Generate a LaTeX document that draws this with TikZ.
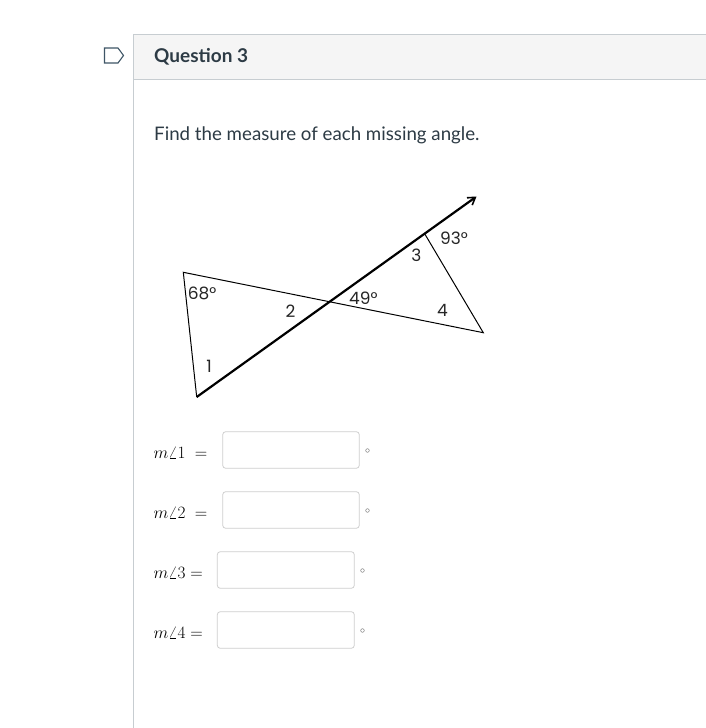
\documentclass[tikz,border=0pt]{standalone}
\usepackage{fontspec}
\setmainfont{Lato}
\newfontfamily\geo{Poppins}
\usetikzlibrary{arrows.meta}
\definecolor{ink}{HTML}{2D3B45}
\definecolor{rule}{HTML}{C7CDD1}
\definecolor{band}{HTML}{F5F5F5}
\definecolor{boxline}{HTML}{CFCFCF}
\definecolor{iconline}{HTML}{3E5566}
\tikzset{
  thinline/.style={line width=1pt, black},
  rayline/.style={line width=2.2pt, black, -{Straight Barb[length=7pt,width=9pt,line width=1.6pt]}},
  anglab/.style={font=\geo\fontsize{17}{20}\selectfont, inner sep=0pt, text=black!85},
  anslab/.style={font=\fontsize{18}{22}\selectfont, inner sep=0pt, anchor=base west, text=black},
  ansbox/.style={draw=boxline, line width=0.8pt, rounded corners=3pt, fill=white},
  degsym/.style={font=\fontsize{10}{12}\selectfont, inner sep=0pt, text=black!70},
}
\begin{document}
\begin{tikzpicture}[x=1pt,y=-1pt]
\useasboundingbox (0,0) rectangle (706,728);
\fill[white] (0,0) rectangle (706,728);
% header band
\fill[band] (133,34) rectangle (706,79);
\draw[rule, line width=1pt] (706,34) -- (133,34) -- (133,728);
\draw[rule, line width=1pt] (133,79) -- (706,79);
% tag icon
\draw[iconline, line width=1.1pt, line join=miter] (104.5,48) -- (118,48) -- (123.5,55.5) -- (118,63) -- (104.5,63) -- cycle;
\node[anchor=base west, inner sep=0pt, text=ink, font=\bfseries\fontsize{19}{23}\selectfont] (title) at (154,62) {Question 3};
\node[anchor=base west, inner sep=0pt, text=ink, font=\fontsize{18.7}{22}\selectfont] (prompt) at (154,140.5) {Find the measure of each missing angle.};
% figure
\coordinate (A) at (183.3,272.3);
\coordinate (B) at (196.7,397);
\coordinate (O) at (330,301.7);
\coordinate (C) at (483.3,332.7);
\coordinate (D) at (425,234.3);
\coordinate (T) at (476.5,196.5);
\draw[thinline, line join=miter] (B) -- (A) -- (C) -- (D);
\draw[rayline] (B) -- (T);
\node[anglab] (l68) at (202,293.3) {68°};
\node[anglab] (l1) at (209,366.7) {1};
\node[anglab] (l2) at (290.5,311.7) {2};
\node[anglab] (l49) at (363.3,298) {49°};
\node[anglab] (l3) at (416.5,255) {3};
\node[anglab] (l93) at (454,238.3) {93°};
\node[anglab] (l4) at (442.5,310) {4};
% answers
\node[anslab] (m1) at (153.3,458.3) {$m\angle1\ =$};
\node[anslab] (m2) at (153.3,518.3) {$m\angle2\ =$};
\node[anslab] (m3) at (153.3,578.3) {$m\angle3=$};
\node[anslab] (m4) at (153.3,638.3) {$m\angle4=$};
\draw[ansbox] (222.7,431.7) rectangle (359.3,468.3) node[midway] (b1) {};
\draw[ansbox] (222.7,491.7) rectangle (359.3,528.3) node[midway] (b2) {};
\draw[ansbox] (217.3,551.7) rectangle (354.3,588.3) node[midway] (b3) {};
\draw[ansbox] (217.3,611.7) rectangle (354.3,648.3) node[midway] (b4) {};
\node[degsym] (d1) at (367.7,451) {$\circ$};
\node[degsym] (d2) at (367.7,511) {$\circ$};
\node[degsym] (d3) at (362.7,571) {$\circ$};
\node[degsym] (d4) at (362.7,631) {$\circ$};
\end{tikzpicture}
\end{document}
